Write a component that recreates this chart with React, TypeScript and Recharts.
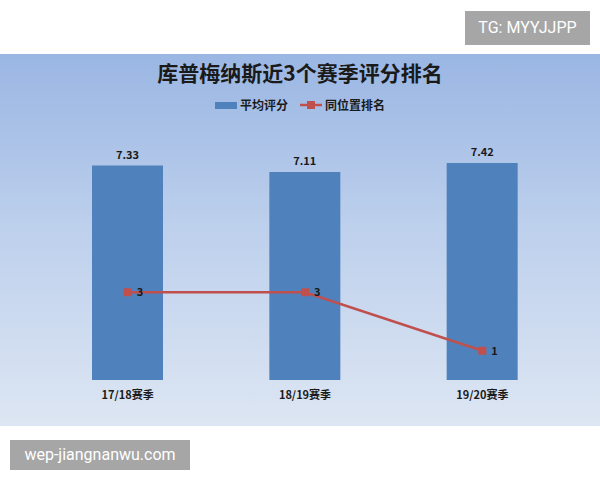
import { ComposedChart, Bar, Line, XAxis, YAxis, LabelList } from 'recharts';

const seasons = ['17/18赛季', '18/19赛季', '19/20赛季'];
const ratings = [7.33, 7.11, 7.42];
const ranks = [3, 3, 1];
const seriesNames = ['平均评分', '同位置排名'];

const data = seasons.map((season, i) => ({
    season,
    rating: ratings[i],
    rank: ranks[i]
}));

const font = '"Noto Sans CJK SC", "Noto Sans", sans-serif';

const SquareDot = (props: any) => {
    const { cx, cy } = props;
    if (cx == null || cy == null) return null;
    return <rect x={cx - 4} y={cy - 4} width={8} height={8} fill="#c0504d" />;
};

export default function App() {
    return (
        <div style={{ position: 'absolute', left: 0, top: 0, width: 600, height: 480, background: '#fff', fontFamily: font }}>
            {/* watermark top */}
            <div style={{
                position: 'absolute', left: 465, top: 11, width: 125, height: 34,
                background: '#a6a6a6', color: '#fff', fontSize: 16, lineHeight: '34px',
                textAlign: 'center', fontFamily: 'Roboto, "Noto Sans", sans-serif'
            }}>
                TG: MYYJJPP
            </div>

            {/* chart panel */}
            <div style={{
                position: 'absolute', left: 0, top: 54, width: 600, height: 372,
                background: 'linear-gradient(to bottom, #9ab6e3 0%, #bccfec 45%, #dde6f3 100%)'
            }}>
                <div style={{
                    position: 'absolute', left: 0, top: 3, width: 600, textAlign: 'center',
                    fontSize: 21, fontWeight: 700, color: '#1a1a1a', lineHeight: '30px'
                }}>
                    库普梅纳斯近3个赛季评分排名
                </div>
                <div style={{
                    position: 'absolute', left: 0, top: 42, width: 600, display: 'flex',
                    justifyContent: 'center', alignItems: 'center', fontSize: 12, fontWeight: 700,
                    color: '#1a1a1a', lineHeight: '18px'
                }}>
                    <span style={{ display: 'inline-block', width: 22, height: 7, background: '#4f81bd', marginRight: 3 }} />
                    <span style={{ marginRight: 12 }}>{seriesNames[0]}</span>
                    <svg width={22} height={10} style={{ marginRight: 3 }}>
                        <line x1={0} y1={5} x2={22} y2={5} stroke="#c0504d" strokeWidth={2.5} />
                        <rect x={7} y={1} width={8} height={8} fill="#c0504d" />
                    </svg>
                    <span>{seriesNames[1]}</span>
                </div>

                <ComposedChart
                    width={600}
                    height={372}
                    data={data}
                    margin={{ top: 92, right: 29, bottom: 16, left: 39 }}
                    barCategoryGap="30%"
                >
                    <XAxis
                        dataKey="season"
                        axisLine={false}
                        tickLine={false}
                        tickSize={0}
                        tickMargin={11}
                        height={30}
                        tick={{ fill: '#1a1a1a', fontSize: 11, fontWeight: 700, fontFamily: font }}
                    />
                    <YAxis yAxisId="left" hide domain={[0, 8]} />
                    <YAxis yAxisId="right" hide orientation="right" domain={[0, 8]} />
                    <Bar
                        yAxisId="left"
                        dataKey="rating"
                        name={seriesNames[0]}
                        fill="#4f81bd"
                        barSize={71}
                        isAnimationActive={false}
                    >
                        <LabelList
                            dataKey="rating"
                            position="top"
                            offset={7}
                            style={{ fill: '#1a1a1a', fontSize: 11, fontWeight: 700, fontFamily: font }}
                        />
                    </Bar>
                    <Line
                        yAxisId="right"
                        dataKey="rank"
                        name={seriesNames[1]}
                        stroke="#c0504d"
                        strokeWidth={2.5}
                        dot={<SquareDot />}
                        activeDot={false}
                        isAnimationActive={false}
                    >
                        <LabelList
                            dataKey="rank"
                            position="right"
                            offset={9}
                            style={{ fill: '#1a1a1a', fontSize: 11, fontWeight: 700, fontFamily: font }}
                        />
                    </Line>
                </ComposedChart>
            </div>

            {/* watermark bottom */}
            <div style={{
                position: 'absolute', left: 10, top: 440, width: 180, height: 30,
                background: '#a6a6a6', color: '#fff', fontSize: 16, lineHeight: '30px',
                textAlign: 'center', fontFamily: 'Roboto, "Noto Sans", sans-serif'
            }}>
                wep-jiangnanwu.com
            </div>
        </div>
    );
}
